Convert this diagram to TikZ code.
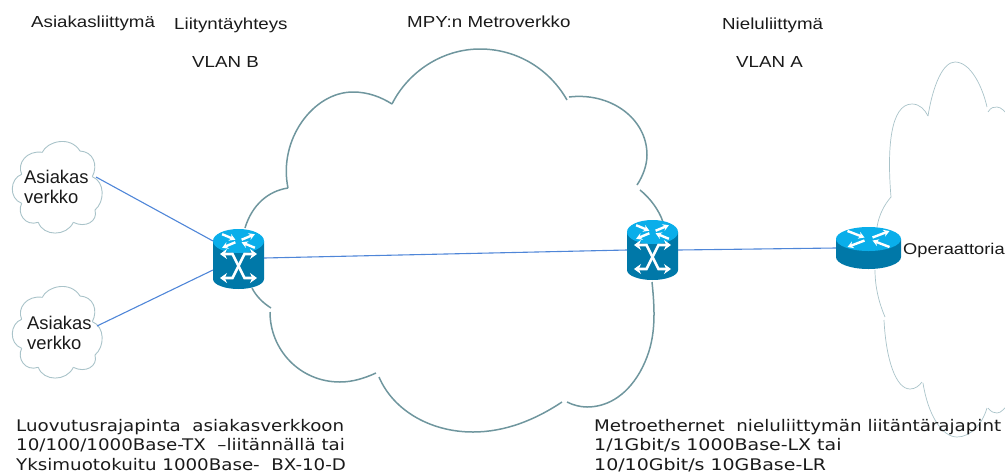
\documentclass[tikz,border=0pt]{standalone}
\usepackage{fontspec}
\setmainfont{Liberation Sans}
\newfontfamily\widesans[FakeStretch=1.17]{Liberation Sans}
\newfontfamily\vfont[FakeStretch=1.14]{DejaVu Sans}
\newfontfamily\vfontwide[FakeStretch=1.185]{DejaVu Sans}
\usetikzlibrary{arrows.meta}
\definecolor{cloudmain}{HTML}{6F969E}
\definecolor{cloudthin}{HTML}{A9C3C9}
\definecolor{linkblue}{HTML}{4F86D8}
\definecolor{iconbody}{HTML}{0078A8}
\definecolor{icontop}{HTML}{0AAEEA}
\definecolor{inkc}{HTML}{1A1A1A}
\tikzset{
  mainlobe/.style={draw=cloudmain,line width=1.5pt},
  thinlobe/.style={draw=cloudthin,line width=.7pt},
  smalllobe/.style={draw=cloudthin,line width=.9pt},
  link/.style={draw=linkblue,line width=1.1pt},
  toplabel/.style={font=\widesans\fontsize{16}{19}\selectfont,text=inkc,anchor=base west,inner sep=0pt},
  netlabel/.style={font=\fontsize{18.4}{20}\selectfont,text=inkc,align=left,anchor=base west,inner sep=0pt},
  notelabel/.style={font=\vfont\fontsize{16}{19.5}\selectfont,text=inkc,align=left,anchor=north west,inner sep=0pt},
  iconarrow/.style={draw=white,line width=2.6pt,{Stealth[length=7pt,width=10pt]}-{Stealth[length=7pt,width=10pt]}},
  toparrow/.style={draw=white,line width=2.4pt,-{Stealth[length=6pt,width=7pt]}},
  anchorbox/.style={inner sep=0pt,outer sep=0pt},
}
% small cloud in finer coordinates
\newcommand{\smallcloud}[2]{%
\begin{scope}[shift={(#1,#2)},x=.3333pt,y=-.3333pt]
\draw[smalllobe] (50,118) .. controls (35,85) and (65,45) .. (112,52);
\draw[smalllobe] (112,52) .. controls (125,20) and (195,0) .. (225,48);
\draw[smalllobe] (225,48) .. controls (265,50) and (280,90) .. (262,125);
\draw[smalllobe] (262,125) .. controls (300,140) and (300,200) .. (270,225);
\draw[smalllobe] (270,225) .. controls (280,260) and (240,280) .. (205,262);
\draw[smalllobe] (205,262) .. controls (185,305) and (115,305) .. (100,262);
\draw[smalllobe] (100,262) .. controls (60,275) and (35,235) .. (50,205);
\draw[smalllobe] (50,205) .. controls (10,190) and (15,130) .. (50,118);
\end{scope}}
% four arrows on an icon top, centre at (0,0), half-axes 32 x 12
\newcommand{\topglyphs}{%
\draw[toparrow] (-21,-8) -- (-4,-1.5);
\draw[toparrow] (4,-1.5) -- (21,-8);
\draw[toparrow] (-4,1.5) -- (-21,8);
\draw[toparrow] (21,8) -- (4,1.5);}
% switch: #1 name, #2 cx, #3 top y, #4 bottom y
\newcommand{\switchicon}[4]{%
\node[anchorbox,minimum width=51pt,minimum height=#4pt-#3pt] (#1) at (#2,{(#3+#4)/2}) {};
\begin{scope}[shift={(#2,#3)}]
\fill[iconbody] (-25.5,12) -- (-25.5,{#4-#3-10}) arc[start angle=180,end angle=360,x radius=25.5,y radius=-10] -- (25.5,12) -- cycle;
\fill[icontop] (0,12) ellipse[x radius=25.5,y radius=12];
\begin{scope}[shift={(0,12)},xscale=.78,yscale=.85]\topglyphs\end{scope}
\begin{scope}[shift={(0,{(#4-#3)/2+7})}]
\draw[iconarrow] (-18.5,-12) -- (-6,-12) -- (6,12) -- (18.5,12);
\draw[iconarrow] (-18.5,12) -- (-6,12) -- (6,-12) -- (18.5,-12);
\end{scope}
\end{scope}}
\begin{document}
\begin{tikzpicture}[x=1pt,y=-1pt]
\useasboundingbox (0,0) rectangle (1005,475);
\clip (0,0) rectangle (1005,475);
% main cloud
\draw[mainlobe] (245,228) .. controls (252,205) and (268,191) .. (288,188);
\draw[mainlobe] (288,188) .. controls (278,140) and (313,92) .. (353,92) .. controls (368,92) and (381,97) .. (392,104);
\draw[mainlobe] (392,104) .. controls (408,72) and (442,49) .. (480,49) .. controls (518,49) and (550,70) .. (567,100);
\draw[mainlobe] (569,97) .. controls (610,92) and (647,118) .. (647,155) .. controls (647,165) and (643,176) .. (637,185);
\draw[mainlobe] (640,190) .. controls (650,198) and (659,210) .. (663,222);
\draw[mainlobe] (652,282) .. controls (656,320) and (655,345) .. (640,372) .. controls (625,398) and (605,407) .. (587,407) .. controls (580,407) and (573,405) .. (567,402);
\draw[mainlobe] (562,402) .. controls (535,420) and (505,432) .. (473,432) .. controls (430,432) and (393,410) .. (379,377);
\draw[mainlobe] (376,373) .. controls (365,378) and (353,382) .. (340,382) .. controls (300,382) and (270,350) .. (270,312);
\draw[mainlobe] (271,308) .. controls (263,303) and (256,296) .. (252,288);
% operator cloud
\draw[thinlobe] (877,227) .. controls (879,215) and (884,205) .. (891,197);
\draw[thinlobe] (891,197) .. controls (887,150) and (890,104) .. (912,104) .. controls (920,104) and (925,110) .. (928,116);
\draw[thinlobe] (928,116) .. controls (933,85) and (943,62) .. (955,62) .. controls (970,62) and (982,85) .. (987,107);
\draw[thinlobe] (988,112) .. controls (991,107) and (994,107) .. (997,107) .. controls (1001,107) and (1006,112) .. (1010,118);
\draw[thinlobe] (875,270) .. controls (875,287) and (879,303) .. (885,317);
\draw[thinlobe] (884,320) .. controls (886,360) and (896,389) .. (910,389) .. controls (915,389) and (919,386) .. (922,382);
\draw[thinlobe] (923,383) .. controls (928,415) and (942,437) .. (957,437) .. controls (970,437) and (982,425) .. (987,408);
\draw[thinlobe] (988,408) .. controls (991,412) and (994,413) .. (997,413) .. controls (1001,413) and (1006,408) .. (1010,400);
% customer clouds
\smallcloud{5}{135}
\smallcloud{5}{280}
% nodes
\coordinate (c1port) at (96,177);
\coordinate (c2port) at (97,326);
\switchicon{swa}{238.5}{229}{289}
\switchicon{swb}{652.5}{220}{280}
\coordinate (swaL1) at (213,241);
\coordinate (swaL2) at (213,270);
\coordinate (swaR) at (264,258);
\coordinate (swbL) at (627,250);
\coordinate (swbR) at (678,250);
\coordinate (rtrL) at (836,248);
\node[anchorbox,minimum width=65pt,minimum height=42pt] (rtr) at (868.5,248) {};
\draw[link] (c1port) -- (swaL1);
\draw[link] (c2port) -- (swaL2);
\draw[link] (swaR) -- (swbL);
\draw[link] (swbR) -- (rtrL);
% router
\begin{scope}[shift={(868.5,227)}]
\fill[iconbody] (-32.5,12) -- (-32.5,30) arc[start angle=180,end angle=360,x radius=32.5,y radius=-12] -- (32.5,12) -- cycle;
\fill[icontop] (0,12) ellipse[x radius=32.5,y radius=12];
\begin{scope}[shift={(0,12)}]\topglyphs\end{scope}
\end{scope}
% labels
\node[toplabel] (t1) at (31,27) {Asiakasliittymä};
\node[toplabel] (t2) at (174,29) {Liityntäyhteys};
\node[toplabel] (t3) at (192,67) {VLAN B};
\node[toplabel] (t4) at (407,27) {MPY:n Metroverkko};
\node[toplabel] (t5) at (722,29) {Nieluliittymä};
\node[toplabel] (t6) at (736,67) {VLAN A};
\node[netlabel] (n1) at (24,203) {Asiakas\\verkko};
\node[netlabel] (n2) at (27,349) {Asiakas\\verkko};
\node[toplabel,font=\widesans\fontsize{15.6}{19}\selectfont] (n3) at (903,254) {Operaattoria};
\node[notelabel] (b1) at (16,419) {Luovutusrajapinta\ \ asiakasverkkoon\\10/100/1000Base-TX\ \ –liitännällä tai\\Yksimuotokuitu 1000Base-\ \ BX-10-D};
\node[notelabel] (b2) at (594,419) {Metroethernet\ \ nieluliittymän liitäntärajapint\\{\vfontwide 1/1Gbit/s 1000Base-LX tai}\\{\vfontwide 10/10Gbit/s 10GBase-LR}};
\end{tikzpicture}
\end{document}
